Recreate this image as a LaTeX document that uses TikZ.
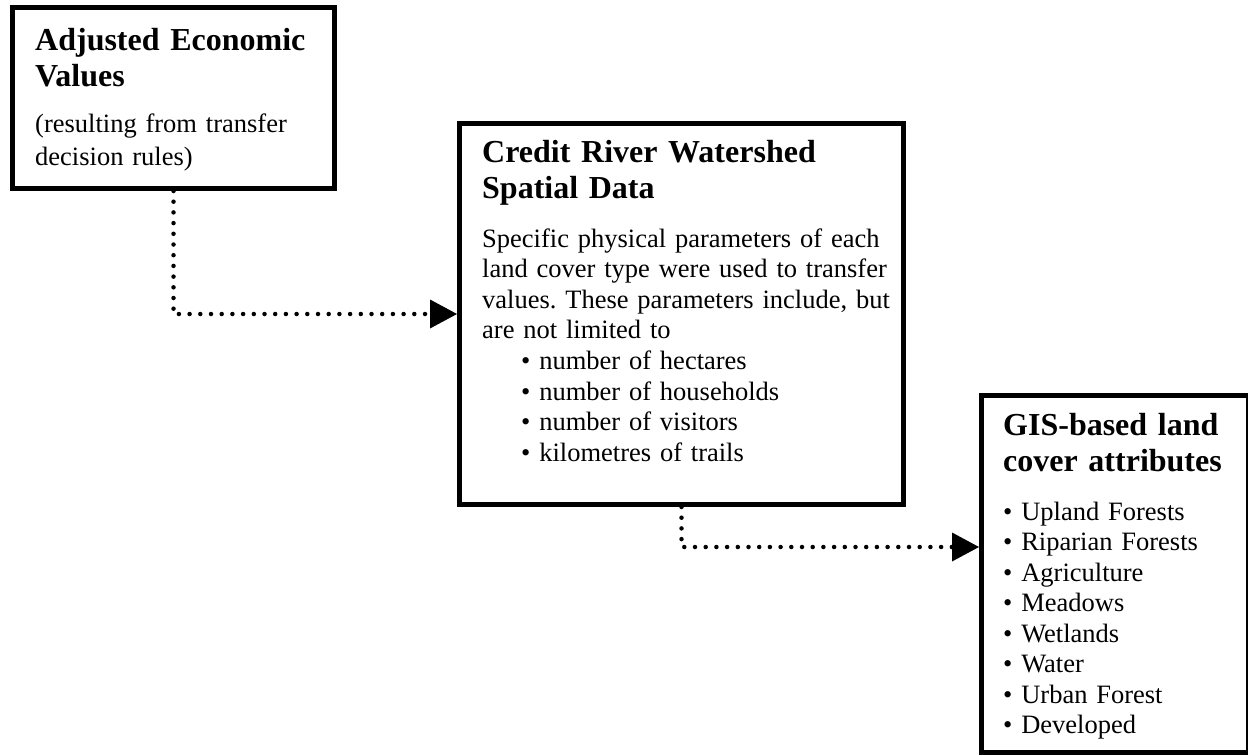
\documentclass[tikz,border=0pt]{standalone}
\usepackage{fontspec}
\setmainfont{Liberation Serif}
\usetikzlibrary{arrows.meta,positioning}
\frenchspacing
\begin{document}
\begin{tikzpicture}[x=1pt,y=-1pt]

% Styles for the elements
\tikzstyle{box}  = [rectangle, draw, line width=5pt, inner sep=0pt, anchor=north west]
\tikzstyle{head} = [inner sep=0pt, anchor=base west, text width=440pt, align=left, font=\fontsize{32}{36}\selectfont\bfseries]
\tikzstyle{body} = [inner sep=0pt, anchor=base west, text width=440pt, align=left, font=\fontsize{26.5}{30.6}\selectfont]
\tikzstyle{flow} = [line width=4.5pt, line cap=round, dash pattern=on 0pt off 10.7pt, -{Triangle[length=27pt,width=29pt,line width=0pt]}]

	\clip (0,0) rectangle (1248,755); % Frame

	% Adjusted values
	\node[box, minimum width=322pt, minimum height=181pt] (adjusted) at (10,5) {};
	\node[head] (adjusted_head) at ([shift={(25,45)}]adjusted.north west) {Adjusted Economic\\Values};
	\node[body, font=\fontsize{26.5}{33}\selectfont] (adjusted_text) at ([shift={(25,127)}]adjusted.north west) {(resulting from transfer\\decision rules)};

	% Spatial data
	\node[box, minimum width=444pt, minimum height=381pt] (credit) at (457,121) {};
	\node[head] (credit_head) at ([shift={(25,41)}]credit.north west) {Credit River Watershed\\Spatial Data};
	\node[body] (credit_text) at ([shift={(25,126)}]credit.north west) {Specific physical parameters of each\\land cover type were used to transfer\\values. These parameters include, but\\are not limited to\\
		\hspace*{39pt}• number of hectares\\
		\hspace*{39pt}• number of households\\
		\hspace*{39pt}• number of visitors\\
		\hspace*{39pt}• kilometres of trails};

	% Land cover
	\node[box, minimum width=266.5pt, minimum height=357pt] (gis) at (979,393) {};
	\node[head] (gis_head) at ([shift={(24,42)}]gis.north west) {GIS-based land\\cover attributes};
	\node[body, font=\fontsize{26.5}{30.5}\selectfont] (gis_text) at ([shift={(24,127)}]gis.north west) {• Upland Forests\\• Riparian Forests\\• Agriculture\\• Meadows\\• Wetlands\\• Water\\• Urban Forest\\• Developed};

	% Arrows
	\draw[flow] (adjusted.south) |- (credit.west); % Arrow 1
	\draw[flow] (credit.south) |- ([yshift=27pt]gis.west); % Arrow 2

\end{tikzpicture}
\end{document}
